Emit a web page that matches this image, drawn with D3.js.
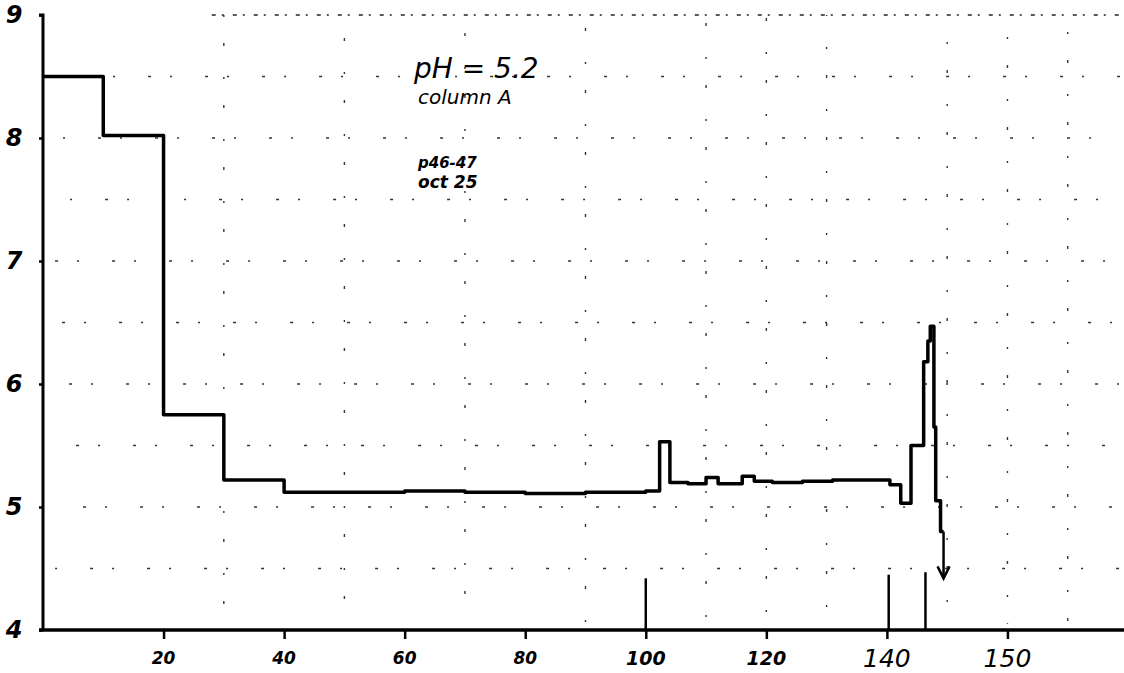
<!DOCTYPE html>
<html>
<head>
<meta charset="utf-8">
<script src="https://cdn.jsdelivr.net/npm/d3@7"></script>
<style>
    body { margin: 0; background: #fff; }
    svg { display: block; }
</style>
</head>
<body>
<div class="chart"></div>
<script>
// step readings (x = volume, value = pH)
let xs = [0, 10, 20, 30, 40, 50, 60, 70, 80, 90, 100, 102.3, 104, 107, 110, 112, 116, 118, 121, 126, 131, 136, 140.5, 142.3, 144, 146.1, 146.8, 147.2, 147.8, 148.1, 148.9, 149.4];
let ph = [8.5, 8.02, 5.75, 5.22, 5.12, 5.12, 5.13, 5.12, 5.11, 5.12, 5.13, 5.53, 5.2, 5.19, 5.24, 5.19, 5.25, 5.21, 5.2, 5.21, 5.22, 5.22, 5.18, 5.03, 5.5, 6.18, 6.35, 6.47, 5.65, 5.05, 4.8, 4.8];
let arrow_end = 4.42;

// vertical marker strokes above the x axis
let marker_x = [100, 140.3, 146.4];
let marker_top = [4.42, 4.45, 4.47];

let y_ticks = [4, 5, 6, 7, 8, 9];
let x_ticks = [20, 40, 60, 80, 100, 120, 140, 160];
let x_tick_labels = ['20', '40', '60', '80', '100', '120', '140', '150'];

let grid_x = [30, 50, 70, 90, 110, 120, 130, 150, 160, 170];
let grid_y = [4.5, 5, 5.5, 6, 6.5, 7, 7.5, 8, 8.5];

let notes = ['pH = 5.2', 'column A', 'p46-47', 'oct 25'];

let width = 1124, height = 673;
let fontFamily = '"DejaVu Sans", sans-serif';

let svg = d3.select('.chart')
    .append('svg')
    .attr('width', width)
    .attr('height', height);

let x = d3.scaleLinear().domain([0, 180]).range([43, 1128]);
let y = d3.scaleLinear().domain([4, 9]).range([630, 15]);

// sparse dotted grid
svg.append('g')
    .selectAll('line')
    .data(grid_y)
    .enter().append('line')
    .attr('x1', x(2)).attr('x2', width)
    .attr('y1', d => y(d)).attr('y2', d => y(d))
    .attr('stroke', '#333')
    .attr('stroke-width', 1.4)
    .attr('stroke-dasharray', '2,33,3,19')
    .attr('stroke-dashoffset', (d, i) => i * 7);
svg.append('g')
    .selectAll('line')
    .data(grid_x)
    .enter().append('line')
    .attr('x1', d => x(d)).attr('x2', d => x(d))
    .attr('y1', y(9)).attr('y2', y(4.05))
    .attr('stroke', '#333')
    .attr('stroke-width', 1.4)
    .attr('stroke-dasharray', '2,26,3,31')
    .attr('stroke-dashoffset', (d, i) => i * 5);
// top border is denser
svg.append('line')
    .attr('x1', x(28)).attr('x2', width)
    .attr('y1', y(9)).attr('y2', y(9))
    .attr('stroke', '#222')
    .attr('stroke-width', 1.5)
    .attr('stroke-dasharray', '4,6,2,9');

// y axis
let axis_y = d3.axisLeft(y)
    .tickValues(y_ticks)
    .tickSize(4)
    .tickFormat('');
svg.append('g')
    .attr('transform', `translate(${x(0)}, 0)`)
    .call(axis_y)
    .call(g => g.select('.domain').attr('stroke-width', 3).attr('d', `M-4,${y(9)}H0V${y(4)}`))
    .call(g => g.selectAll('.tick line').attr('stroke-width', 2.5));
svg.append('g')
    .selectAll('text')
    .data(y_ticks)
    .enter().append('text')
    .attr('x', 14)
    .attr('y', d => y(d))
    .attr('dy', '0.35em')
    .attr('text-anchor', 'middle')
    .attr('font-family', fontFamily)
    .attr('font-style', 'italic')
    .attr('font-weight', 'bold')
    .attr('font-size', 24)
    .text(d => d);

// x axis
let axis_x = d3.axisBottom(x)
    .tickValues(x_ticks)
    .tickSize(9)
    .tickFormat('');
svg.append('g')
    .attr('transform', `translate(0, ${y(4)})`)
    .call(axis_x)
    .call(g => g.select('.domain').attr('stroke-width', 3.5).attr('d', `M${x(0) - 4},0H${width}`))
    .call(g => g.selectAll('.tick line').attr('stroke-width', 2.5));
svg.append('g')
    .selectAll('text')
    .data(x_ticks)
    .enter().append('text')
    .attr('x', d => x(d))
    .attr('y', 658)
    .attr('dy', '0.35em')
    .attr('text-anchor', 'middle')
    .attr('font-family', fontFamily)
    .attr('font-style', 'italic')
    .attr('font-weight', (d, i) => i < 6 ? 'bold' : 'normal')
    .attr('font-size', (d, i) => i < 4 ? 17 : (i < 6 ? 19 : 25))
    .text((d, i) => x_tick_labels[i]);

// marker strokes
svg.append('g')
    .selectAll('line')
    .data(marker_x)
    .enter().append('line')
    .attr('x1', d => x(d)).attr('x2', d => x(d))
    .attr('y1', (d, i) => y(marker_top[i])).attr('y2', y(4))
    .attr('stroke', '#000')
    .attr('stroke-width', 2.5);

// the stepped pH trace
let pts = xs.map((d, i) => [d, ph[i]]);
let line = d3.line()
    .x(d => x(d[0]))
    .y(d => y(d[1]))
    .curve(d3.curveStepAfter);
svg.append('path')
    .datum(pts)
    .attr('d', line)
    .attr('fill', 'none')
    .attr('stroke', '#000')
    .attr('stroke-width', 3.5)
    .attr('stroke-linejoin', 'round');

// arrow down from the last reading
let last = pts[pts.length - 1];
svg.append('line')
    .attr('x1', x(last[0])).attr('x2', x(last[0]))
    .attr('y1', y(last[1])).attr('y2', y(arrow_end))
    .attr('stroke', '#000')
    .attr('stroke-width', 2.5);
svg.append('path')
    .attr('d', `M${x(last[0]) - 6},${y(arrow_end) - 12}L${x(last[0])},${y(arrow_end)}L${x(last[0]) + 6},${y(arrow_end) - 12}`)
    .attr('fill', 'none')
    .attr('stroke', '#000')
    .attr('stroke-width', 2.5);

// handwritten notes
let note_g = svg.append('g')
    .attr('font-family', fontFamily)
    .attr('font-style', 'italic');
note_g.append('text').attr('x', 414).attr('y', 78).attr('font-size', 28).text(notes[0]);
note_g.append('text').attr('x', 418).attr('y', 104).attr('font-size', 20).text(notes[1]);
note_g.append('text').attr('x', 418).attr('y', 168).attr('font-size', 15).attr('font-weight', 'bold').text(notes[2]);
note_g.append('text').attr('x', 418).attr('y', 188).attr('font-size', 17).attr('font-weight', 'bold').text(notes[3]);
</script>
</body>
</html>
